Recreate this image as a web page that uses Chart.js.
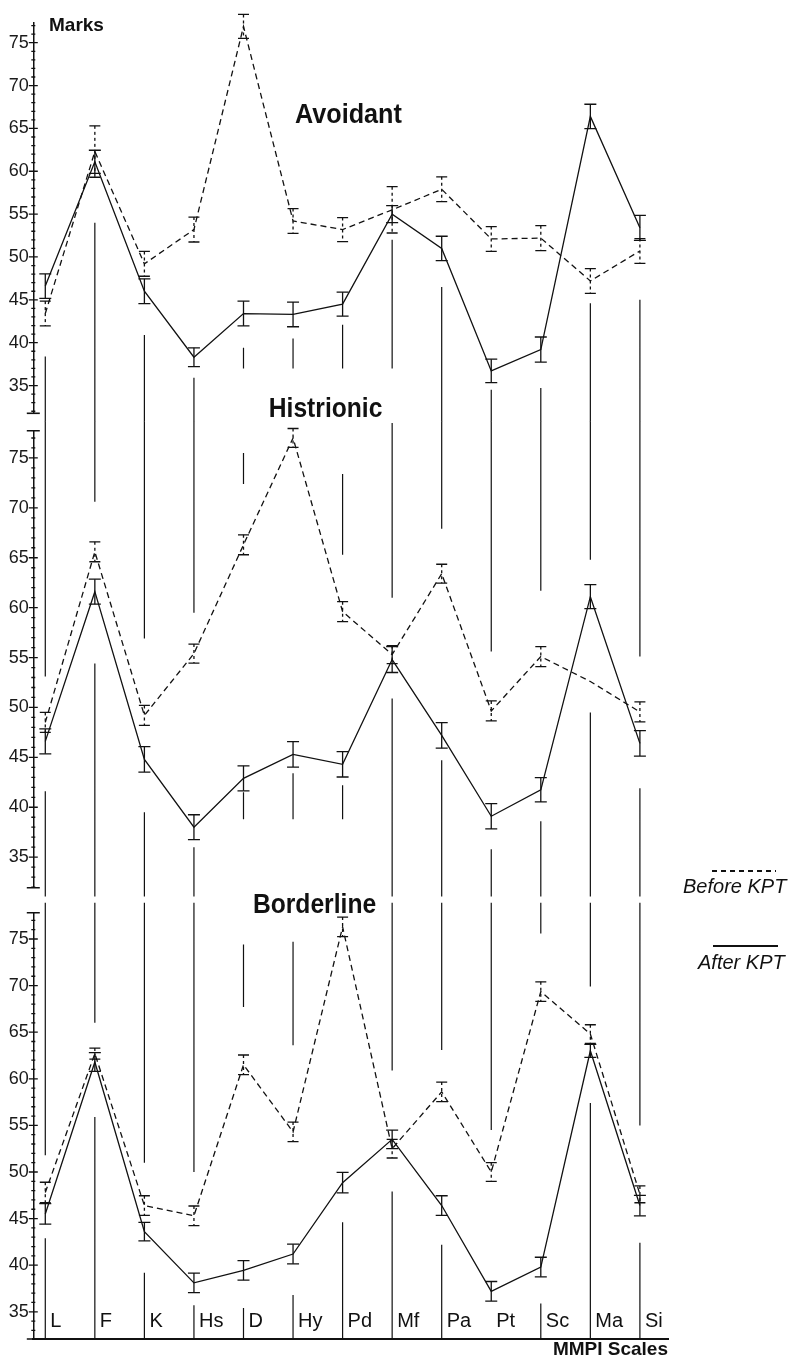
<!DOCTYPE html>
<html><head><meta charset="utf-8">
<script src="https://cdn.jsdelivr.net/npm/chart.js@4.4.1/dist/chart.umd.min.js"></script>
<style>
html,body{margin:0;padding:0;background:#fff;}
#wrap{position:relative;width:792px;height:1363px;overflow:hidden;background:#fff;}
canvas{position:absolute;left:0;}
.legline{position:absolute;height:1.5px;}
.legtext{position:absolute;font:italic 20px "Liberation Sans",Arial,sans-serif;line-height:20px;color:#111;white-space:nowrap;}
</style></head><body>
<div id="wrap">
<canvas id="cA" width="792" height="430" style="top:0px"></canvas>
<canvas id="cB" width="792" height="523" style="top:380px"></canvas>
<canvas id="cC" width="792" height="503" style="top:860px"></canvas>
<div class="legline" style="left:712px;top:870px;width:64px;background:repeating-linear-gradient(to right,#111 0 5px,transparent 5px 9px)"></div>
<div class="legtext" style="left:683px;top:876px">Before KPT</div>
<div class="legline" style="left:713px;top:945px;width:65px;background:#111"></div>
<div class="legtext" style="left:698px;top:952px">After KPT</div>
</div>
<script>
// ---------- data ----------
const scales = ['L','F','K','Hs','D','Hy','Pd','Mf','Pa','Pt','Sc','Ma','Si'];
const yTickValues = [35,40,45,50,55,60,65,70,75];
const panelTitles = ['Avoidant','Histrionic','Borderline'];
const yAxisTitle = 'Marks';
const xAxisTitle = 'MMPI Scales';

const avoidantBefore      = [43.4, 62.3, 49.2, 53.2, 76.9, 54.2, 53.2, 55.5, 57.9, 52.1, 52.2, 47.2, 50.7];
const avoidantBeforeErr   = [1.45, 3.0, 1.45, 1.45, 1.4, 1.45, 1.4, 2.7, 1.45, 1.45, 1.45, 1.45, 1.45];
const avoidantAfter       = [46.6, 61.1, 46.0, 38.3, 43.4, 43.3, 44.5, 55.0, 51.0, 36.7, 39.2, 66.4, 53.4];
const avoidantAfterErr    = [1.42, 1.35, 1.45, 1.1, 1.44, 1.44, 1.4, 1.0, 1.42, 1.37, 1.46, 1.42, 1.46];

const histrionicBefore    = [48.5, 65.6, 49.2, 55.4, 66.3, 77.0, 59.6, 55.3, 63.4, 49.65, 55.1, 52.6, 49.55];
const histrionicBeforeErr = [1.0, 1.0, 1.0, 0.95, 1.0, 0.95, 1.0, 0.9, 0.95, 1.0, 1.0, null, 1.0];
const histrionicAfter     = [46.6, 61.6, 44.8, 38.0, 42.9, 45.3, 44.3, 54.8, 47.2, 39.1, 41.75, 61.1, 46.4];
const histrionicAfterErr  = [1.25, 1.25, 1.27, 1.25, 1.25, 1.27, 1.27, 1.3, 1.28, 1.27, 1.22, 1.2, 1.27];

const borderlineBefore    = [47.8, 62.7, 46.4, 45.3, 61.5, 54.3, 76.3, 52.5, 58.6, 50.0, 69.35, 64.8, 47.6];
const borderlineBeforeErr = [1.1, 0.6, 1.05, 1.05, 1.05, 1.05, 1.05, 1.0, 1.05, 1.0, 1.05, 1.0, 0.9];
const borderlineAfter     = [45.5, 61.8, 43.6, 38.1, 39.45, 41.2, 48.85, 53.5, 46.4, 37.2, 39.8, 63.0, 46.4];
const borderlineAfterErr  = [1.1, 1.0, 1.0, 1.05, 1.05, 1.05, 1.1, 1.0, 1.05, 1.05, 1.05, 0.7, 1.1];

// vertical scale lines (broken), [scale, from value, to value] in each panel's units
const avoidantDrops = [['L',38.4,30.76],['F',54.0,30.76],['K',40.9,30.76],['Hs',35.9,30.76],['D',39.4,37.0],['Hy',40.5,37.0],
  ['Pd',42.1,37.0],['Mf',52.0,37.0],['Pa',46.5,30.76],['Pt',34.5,30.76],['Sc',34.7,30.76],['Ma',44.6,30.76],['Si',45.0,30.76]];
const histrionicDrops = [['L',78.66,53.1],['L',41.6,31.05],['F',78.66,70.6],['F',54.4,31.05],['K',78.66,56.9],['K',39.5,31.05],
  ['Hs',78.66,59.5],['Hs',36.0,31.05],['D',75.5,72.4],['D',41.5,38.8],['Hy',43.4,38.8],['Pd',73.4,65.3],['Pd',42.2,38.8],
  ['Mf',78.5,61.0],['Mf',50.9,31.05],['Pa',78.66,67.9],['Pa',44.7,31.05],['Pt',78.66,55.6],['Pt',35.8,31.05],
  ['Sc',78.66,61.7],['Sc',38.6,31.05],['Ma',78.66,64.8],['Ma',49.5,31.05],['Si',78.66,55.1],['Si',41.9,31.05]];
const borderlineDrops = [['L',78.9,51.8],['L',42.9,32.1],['F',78.9,66.0],['F',55.9,32.1],['K',78.9,51.0],['K',39.2,32.1],
  ['Hs',78.9,50.0],['Hs',35.7,32.1],['D',74.4,67.7],['D',35.4,32.1],['Hy',74.7,63.6],['Hy',36.8,32.1],['Pd',44.6,32.1],
  ['Mf',78.9,60.9],['Mf',47.9,32.1],['Pa',78.9,63.1],['Pa',42.2,32.1],['Pt',78.9,54.5],['Sc',78.9,75.6],['Sc',35.9,32.1],
  ['Ma',78.9,69.9],['Ma',57.4,32.1],['Si',78.9,55.0],['Si',42.4,32.1]];

// ---------- rendering ----------
const FONT = '"Liberation Sans", Arial, Helvetica, sans-serif';
const INK = '#111';
Chart.defaults.font.family = FONT;
Chart.defaults.color = INK;

const toXY = arr => arr.map((v, i) => ({x: i, y: v}));
const dropPoints = list => {
  const pts = [];
  list.forEach(([name, a, b]) => {
    const i = scales.indexOf(name);
    pts.push({x: i, y: a}, {x: i, y: b}, {x: i, y: null});
  });
  return pts;
};

const errorBarPlugin = {
  id: 'errorBars',
  afterDatasetsDraw(chart) {
    const {ctx} = chart, x = chart.scales.x, y = chart.scales.y;
    chart.data.datasets.forEach(ds => {
      if (!ds.errors) return;
      ctx.save();
      ctx.strokeStyle = INK;
      ctx.lineWidth = 1.3;
      ds.data.forEach((pt, i) => {
        const e = ds.errors[i];
        if (e == null) return;
        const px = x.getPixelForValue(pt.x);
        const t = y.getPixelForValue(pt.y + e), b = y.getPixelForValue(pt.y - e);
        ctx.setLineDash(ds.errDash || []);
        ctx.beginPath(); ctx.moveTo(px, t); ctx.lineTo(px, b); ctx.stroke();
        ctx.setLineDash([]);
        ctx.beginPath();
        ctx.moveTo(px - ds.capHalf, t); ctx.lineTo(px + ds.capHalf, t);
        ctx.moveTo(px - ds.capHalf, b); ctx.lineTo(px + ds.capHalf, b);
        ctx.stroke();
      });
      ctx.restore();
    });
  }
};

const axisMarksPlugin = {
  id: 'axisMarks',
  afterDraw(chart, args, opts) {
    const y = chart.scales.y, ctx = chart.ctx;
    const ax = y.right;
    ctx.save();
    ctx.strokeStyle = INK;
    ctx.lineWidth = 1.3;
    ctx.beginPath();
    for (let v = Math.ceil(y.min); v <= Math.floor(y.max); v++) {
      const p = y.getPixelForValue(v);
      const h = v % 5 === 0 ? 4.5 : 2;
      ctx.moveTo(ax - h, p); ctx.lineTo(ax + h, p);
    }
    ctx.stroke();
    ctx.lineWidth = 1.6;
    ctx.beginPath();
    if (opts.capTop) { ctx.moveTo(ax - 6.5, y.top); ctx.lineTo(ax + 6.5, y.top); }
    if (opts.capBottom) { ctx.moveTo(ax - 6.5, y.bottom); ctx.lineTo(ax + 6.5, y.bottom); }
    ctx.stroke();
    ctx.restore();
  }
};

const panelTextPlugin = {
  id: 'panelText',
  afterDraw(chart, args, opts) {
    const {ctx} = chart, x = chart.scales.x, y = chart.scales.y;
    (opts.items || []).forEach(it => {
      ctx.save();
      ctx.font = it.font;
      ctx.fillStyle = INK;
      ctx.textAlign = 'left';
      ctx.textBaseline = 'alphabetic';
      ctx.translate(x.getPixelForValue(it.x) + (it.dx || 0), y.getPixelForValue(it.y));
      ctx.scale(it.sx || 1, 1);
      ctx.fillText(it.text, 0, 0);
      ctx.restore();
    });
  }
};

function makePanel(cfg) {
  const xScale = {
    type: 'linear', min: -0.242, max: 12.567,
    display: cfg.showX,
    grid: {display: false, drawTicks: false},
    ticks: {display: false},
    border: {display: true, color: INK, width: 2},
    title: {display: cfg.showX, text: xAxisTitle, align: 'end', color: INK,
            font: {size: 19, weight: 'bold'}, padding: {top: 0, bottom: 2}},
    afterFit: s => { if (cfg.showX) s.height = 24; }
  };
  return new Chart(document.getElementById(cfg.id), {
    type: 'line',
    data: {
      datasets: [
        {label: 'scale lines', data: dropPoints(cfg.drops), borderColor: INK, borderWidth: 1.2,
         pointRadius: 0, spanGaps: false, clip: false, tension: 0},
        {label: 'Before KPT', data: toXY(cfg.before), errors: cfg.beforeErr, errDash: [3, 3], capHalf: 5.5,
         borderColor: INK, borderWidth: 1.3, borderDash: [6, 4], pointRadius: 0, clip: false, tension: 0},
        {label: 'After KPT', data: toXY(cfg.after), errors: cfg.afterErr, capHalf: 6,
         borderColor: INK, borderWidth: 1.3, pointRadius: 0, clip: false, tension: 0}
      ]
    },
    options: {
      responsive: false, animation: false, maintainAspectRatio: false,
      events: [],
      layout: {padding: {top: cfg.padTop, bottom: cfg.padBottom, left: 0, right: 124}},
      plugins: {
        legend: {display: false}, tooltip: {enabled: false}, title: {display: false},
        axisMarks: {capTop: cfg.capTop, capBottom: true},
        panelText: {items: cfg.texts}
      },
      scales: {
        x: xScale,
        y: {
          type: 'linear', min: cfg.yMin, max: cfg.yMax,
          grid: {display: false, drawTicks: false},
          border: {display: true, color: INK, width: 1.5},
          afterBuildTicks: s => { s.ticks = yTickValues.map(v => ({value: v})); },
          afterFit: s => { s.width = 33.3; },
          ticks: {autoSkip: false, padding: 4.5, color: '#1a1a1a', font: {size: 18},
                  callback: v => String(v)}
        }
      }
    },
    plugins: [errorBarPlugin, axisMarksPlugin, panelTextPlugin]
  });
}

const titleFont = 'bold 28px ' + FONT;
makePanel({
  id: 'cA', before: avoidantBefore, beforeErr: avoidantBeforeErr, after: avoidantAfter, afterErr: avoidantAfterErr,
  drops: avoidantDrops, yMin: 31.76, yMax: 77.3, padTop: 23, padBottom: 16.7, capTop: false, showX: false,
  texts: [
    {text: yAxisTitle, x: 0.075, y: 76.4, font: 'bold 19px ' + FONT},
    {text: panelTitles[0], x: 5.04, y: 65.6, font: titleFont, sx: 0.9}
  ]
});
makePanel({
  id: 'cB', before: histrionicBefore, beforeErr: histrionicBeforeErr, after: histrionicAfter, afterErr: histrionicAfterErr,
  drops: histrionicDrops, yMin: 31.94, yMax: 77.73, padTop: 50.7, padBottom: 8.7, capTop: true, showX: false,
  texts: [{text: panelTitles[1], x: 4.51, y: 79.1, font: titleFont, sx: 0.88}]
});
makePanel({
  id: 'cC', before: borderlineBefore, beforeErr: borderlineBeforeErr, after: borderlineAfter, afterErr: borderlineAfterErr,
  drops: borderlineDrops, yMin: 32.08, yMax: 77.82, padTop: 52.7, padBottom: 0, capTop: true, showX: true,
  texts: [{text: panelTitles[2], x: 4.19, y: 77.76, font: titleFont, sx: 0.88}]
    .concat(scales.map((s, i) => ({text: s, x: i, dx: 5, y: 33.37, font: '20px ' + FONT})))
});
</script>
</body></html>
